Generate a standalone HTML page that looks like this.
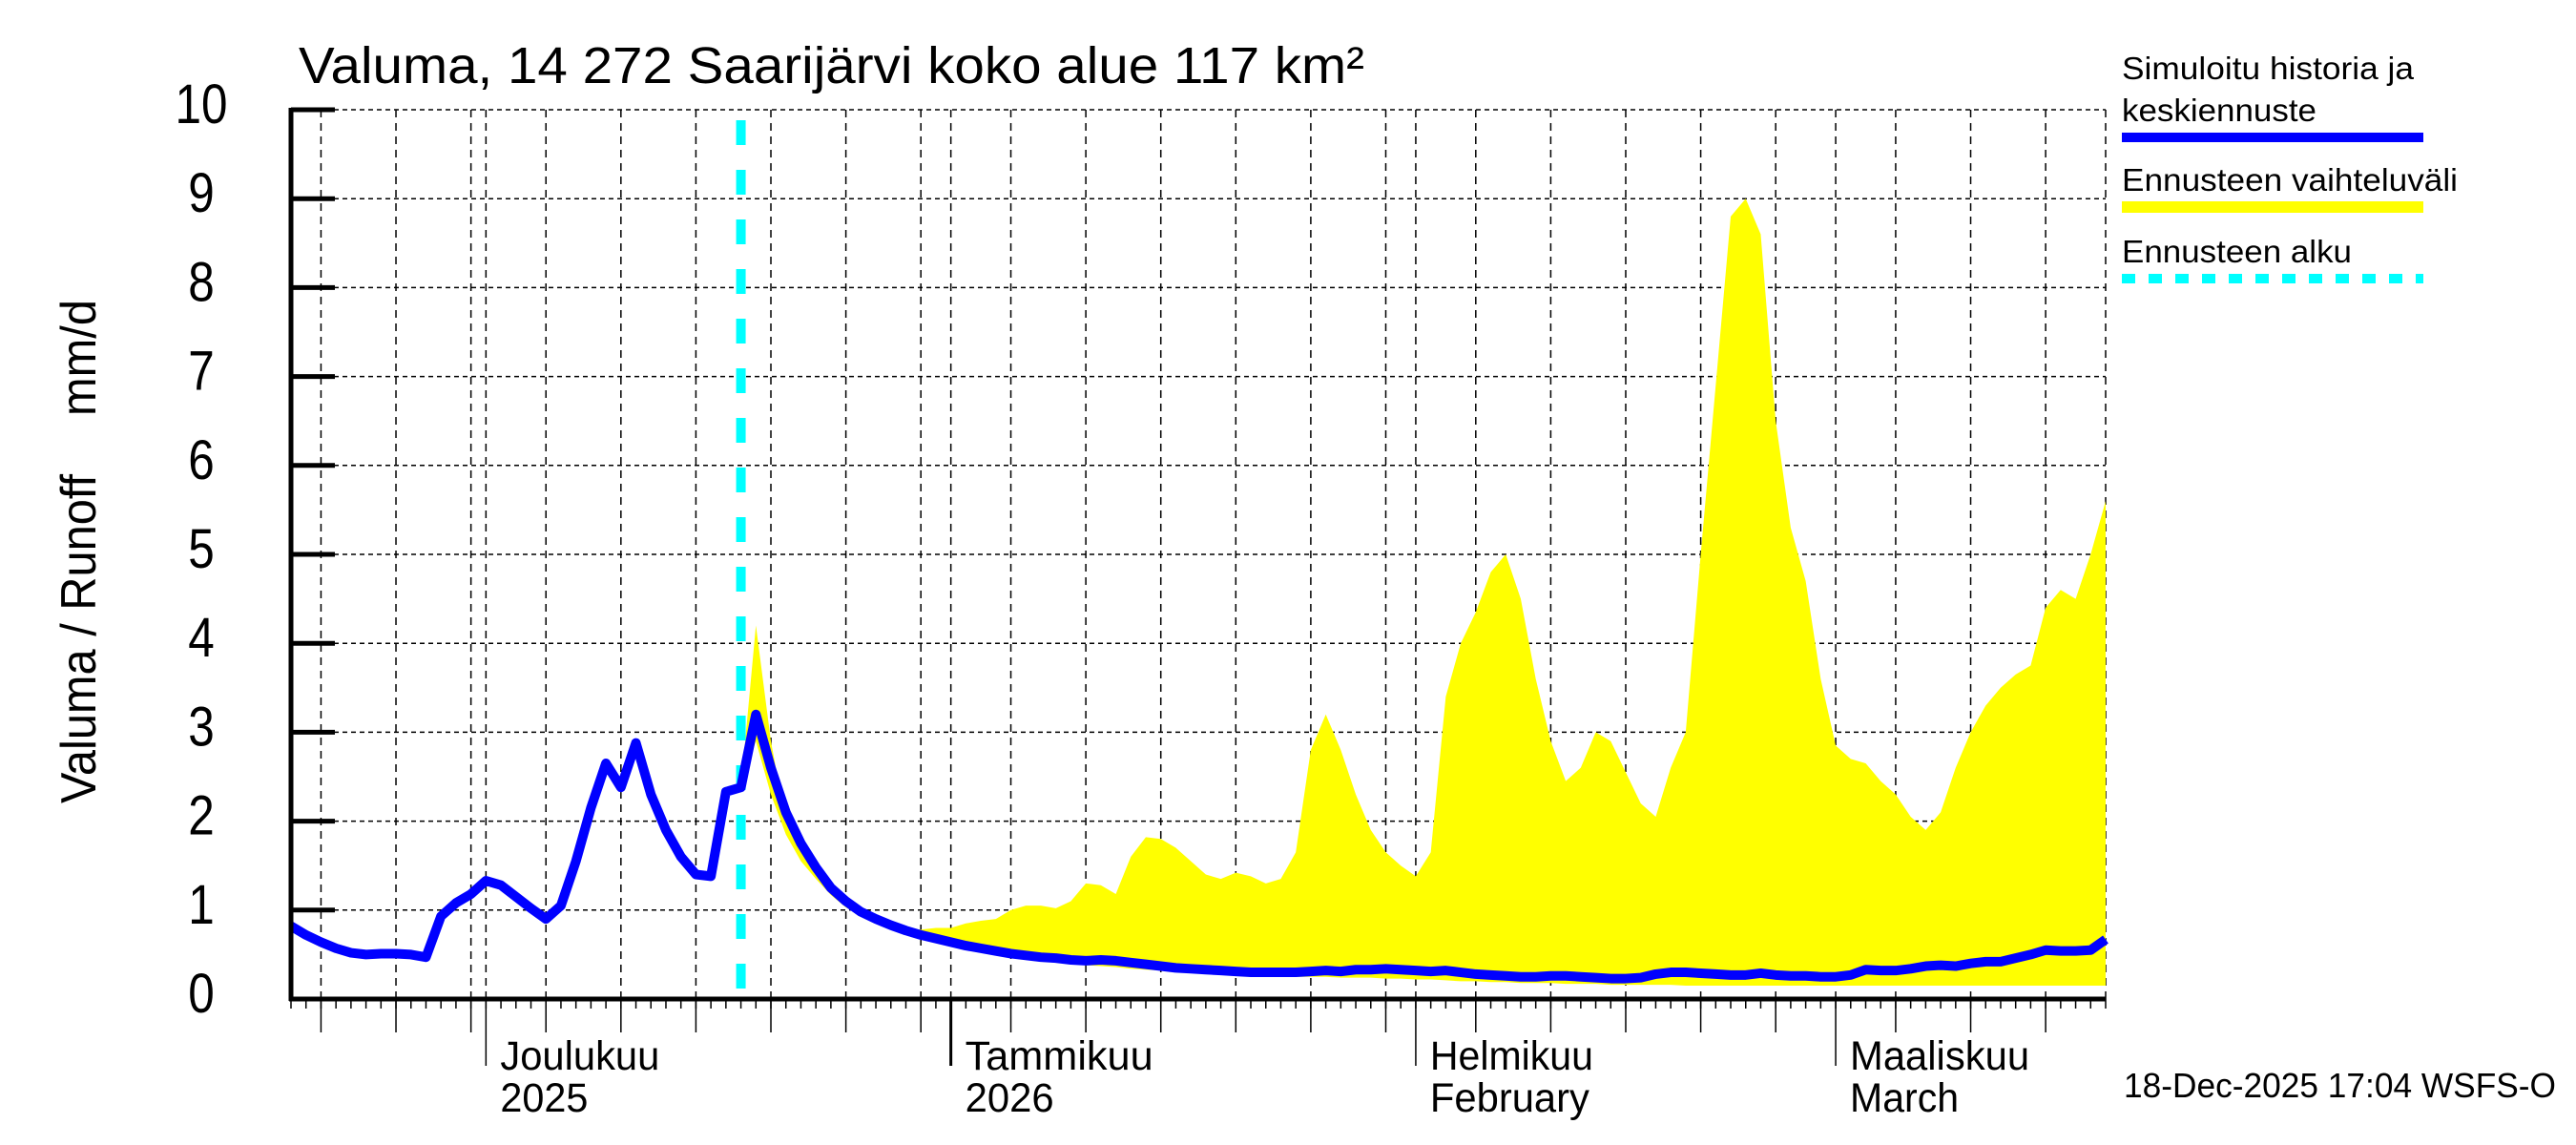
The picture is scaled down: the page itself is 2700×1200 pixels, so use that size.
<!DOCTYPE html>
<html><head><meta charset="utf-8"><style>
html,body{margin:0;padding:0;background:#fff;}
svg{display:block;font-family:"Liberation Sans",Arial,sans-serif;}
</style></head><body>
<svg id="chart" width="2700" height="1200" viewBox="0 0 2700 1200" xmlns="http://www.w3.org/2000/svg">
<rect width="2700" height="1200" fill="#fff"/>
<text x="313" y="87" font-size="54" textLength="1117" lengthAdjust="spacingAndGlyphs">Valuma, 14 272 Saarijärvi koko alue 117 km²</text>
<g font-size="52">
<text transform="translate(100,842) rotate(-90)" textLength="345" lengthAdjust="spacingAndGlyphs">Valuma / Runoff</text>
<text transform="translate(100,436) rotate(-90)" textLength="122" lengthAdjust="spacingAndGlyphs">mm/d</text>
</g>
<g id="grid"></g>
<g id="band"></g>
<g id="series"></g>
<g id="axes"></g>
<g font-size="33">
<text x="2224" y="83" textLength="306" lengthAdjust="spacingAndGlyphs">Simuloitu historia ja</text>
<text x="2224" y="127" textLength="204" lengthAdjust="spacingAndGlyphs">keskiennuste</text>
<rect x="2224" y="139" width="316" height="10" fill="#0000ff"/>
<text x="2224" y="200" textLength="352" lengthAdjust="spacingAndGlyphs">Ennusteen vaihteluväli</text>
<rect x="2224" y="211" width="316" height="12" fill="#ffff00"/>
<text x="2224" y="275" textLength="241" lengthAdjust="spacingAndGlyphs">Ennusteen alku</text>
<line x1="2224" y1="292" x2="2540" y2="292" stroke="#00ffff" stroke-width="10" stroke-dasharray="14 14"/>
</g>
<text x="2226" y="1150" font-size="36" textLength="453" lengthAdjust="spacingAndGlyphs">18-Dec-2025 17:04 WSFS-O</text>
</svg>
<script>
// Day 0 = 18 Nov 2025
const blueValues = [0.82,0.72,0.64,0.57,0.52,0.5,0.51,0.51,0.5,0.47,0.93,1.08,1.18,1.33,1.28,1.15,1.02,0.9,1.05,1.55,2.15,2.65,2.38,2.88,2.3,1.9,1.6,1.4,1.38,2.33,2.38,3.2,2.6,2.1,1.75,1.48,1.25,1.1,0.98,0.9,0.83,0.77,0.72,0.68,0.64,0.6,0.57,0.54,0.51,0.49,0.47,0.46,0.44,0.43,0.44,0.43,0.41,0.39,0.37,0.35,0.34,0.33,0.32,0.31,0.3,0.3,0.3,0.3,0.31,0.32,0.31,0.33,0.33,0.34,0.33,0.32,0.31,0.32,0.3,0.28,0.27,0.26,0.25,0.25,0.26,0.26,0.25,0.24,0.23,0.23,0.24,0.28,0.3,0.3,0.29,0.28,0.27,0.27,0.29,0.27,0.26,0.26,0.25,0.25,0.27,0.33,0.32,0.32,0.34,0.37,0.38,0.37,0.4,0.42,0.42,0.46,0.5,0.55,0.54,0.54,0.55,0.67];
const bandStartDay = 30;
const bandUpper = [2.38,4.2,2.9,2.0,1.7,1.45,1.25,1.1,1.0,0.92,0.85,0.8,0.78,0.8,0.8,0.85,0.88,0.9,1.0,1.05,1.05,1.02,1.1,1.3,1.28,1.18,1.6,1.82,1.8,1.7,1.55,1.4,1.35,1.42,1.38,1.3,1.35,1.65,2.8,3.2,2.8,2.3,1.9,1.65,1.5,1.38,1.65,3.4,4.0,4.35,4.8,5.0,4.5,3.6,2.9,2.45,2.6,3.0,2.9,2.55,2.2,2.05,2.6,3.0,5.0,6.9,8.8,9.0,8.6,6.5,5.3,4.7,3.6,2.85,2.7,2.65,2.45,2.3,2.05,1.9,2.1,2.6,3.0,3.3,3.5,3.65,3.75,4.4,4.6,4.5,5.0,5.6];
const bandLower = [2.38,2.9,2.3,1.85,1.55,1.35,1.17,1.03,0.93,0.85,0.78,0.72,0.67,0.63,0.59,0.55,0.52,0.49,0.46,0.44,0.42,0.41,0.39,0.38,0.37,0.36,0.34,0.33,0.32,0.31,0.3,0.29,0.28,0.27,0.26,0.26,0.25,0.25,0.25,0.25,0.24,0.24,0.24,0.23,0.23,0.22,0.22,0.21,0.2,0.2,0.19,0.19,0.18,0.18,0.18,0.17,0.17,0.17,0.16,0.16,0.16,0.16,0.16,0.15,0.15,0.15,0.15,0.15,0.15,0.15,0.15,0.15,0.15,0.15,0.15,0.15,0.15,0.15,0.15,0.15,0.15,0.15,0.15,0.15,0.15,0.15,0.15,0.15,0.15,0.15,0.15,0.15];
const yTicks = [0,1,2,3,4,5,6,7,8,9,10];
const monthStarts = [13,44,75,103];
const monthLabels = [["Joulukuu","2025"],["Tammikuu","2026"],["Helmikuu","February"],["Maaliskuu","March"]];
const monthLabelWidths = [[167,92],[197,93],[171,167],[188,114]];
const gridDays = [2,7,12,17,22,27,32,37,42,48,53,58,63,68,73,79,84,89,94,99,107,112,117];
const forecastDay = 30;

const X0=305,X1=2207,Y0=1047,Y1=115,DMAX=121;
const sx=d=>X0+(X1-X0)*d/DMAX;
const sy=v=>Y0-(Y0-Y1)*v/10;
const NS='http://www.w3.org/2000/svg';
function mk(tag,attrs,parent){const e=document.createElementNS(NS,tag);for(const k in attrs)e.setAttribute(k,attrs[k]);parent.appendChild(e);return e;}
const grid=document.getElementById('grid'),band=document.getElementById('band'),series=document.getElementById('series'),axes=document.getElementById('axes');

yTicks.forEach(v=>{
  const l=mk('line',{x1:X0,x2:X1,y1:sy(v),y2:sy(v),stroke:'#000','stroke-width':1.5,'stroke-dasharray':'5 4'},grid);
  
  
  const t=mk('line',{x1:X0,x2:X0+46,y1:sy(v),y2:sy(v),stroke:'#000','stroke-width':5},axes);
  
  
  const s=String(v);
  const tx=mk('text',{x:211,y:sy(v)+14,'font-size':58,'text-anchor':'middle',textLength:s.length*27.5,lengthAdjust:'spacingAndGlyphs'},axes);
  tx.textContent=s;
  
  
});
gridDays.concat(monthStarts).concat([DMAX]).forEach(d=>{
  const l=mk('line',{x1:sx(d),x2:sx(d),y1:Y1,y2:Y0,stroke:'#000','stroke-width':1.5,'stroke-dasharray':'8 6'},grid);
  
  
});

// band
let pts=[];
bandUpper.forEach((v,i)=>pts.push(sx(bandStartDay+i)+','+sy(v)));
for(let i=bandLower.length-1;i>=0;i--)pts.push(sx(bandStartDay+i)+','+sy(bandLower[i]));
const poly=mk('polygon',{points:pts.join(' '),fill:'#ffff00',stroke:'none'},band);



// forecast start
const fl=mk('line',{x1:sx(forecastDay),x2:sx(forecastDay),y1:126,y2:Y0,stroke:'#00ffff','stroke-width':10,'stroke-dasharray':'26 26'},series);



// blue line
const bp=blueValues.map((v,i)=>sx(i)+','+sy(v)).join(' ');
const pl=mk('polyline',{points:bp,fill:'none',stroke:'#0000ff','stroke-width':10,'stroke-linejoin':'round'},series);



// axes
const ya=mk('line',{x1:X0,x2:X0,y1:Y1-2,y2:Y0+2,stroke:'#000','stroke-width':5},axes);


const xa=mk('line',{x1:X0-2,x2:X1,y1:Y0,y2:Y0,stroke:'#000','stroke-width':5},axes);


for(let d=0;d<=DMAX;d++){
  const t=mk('line',{x1:sx(d),x2:sx(d),y1:Y0,y2:Y0+10,stroke:'#000','stroke-width':1.5},axes);
  
  
}
gridDays.forEach(d=>{
  const t=mk('line',{x1:sx(d),x2:sx(d),y1:Y0,y2:1082,stroke:'#000','stroke-width':1.5},axes);
  
  
});
monthStarts.forEach((d,i)=>{
  const t=mk('line',{x1:sx(d),x2:sx(d),y1:Y0,y2:1117,stroke:'#000','stroke-width':i==1?3:1.5},axes);
  
  
  const a=mk('text',{x:sx(d)+15,y:1121,'font-size':43,textLength:monthLabelWidths[i][0],lengthAdjust:'spacingAndGlyphs'},axes);
  a.textContent=monthLabels[i][0];
  
  
  const b=mk('text',{x:sx(d)+15,y:1165,'font-size':43,textLength:monthLabelWidths[i][1],lengthAdjust:'spacingAndGlyphs'},axes);
  b.textContent=monthLabels[i][1];
  
  
});
</script>
</body></html>
